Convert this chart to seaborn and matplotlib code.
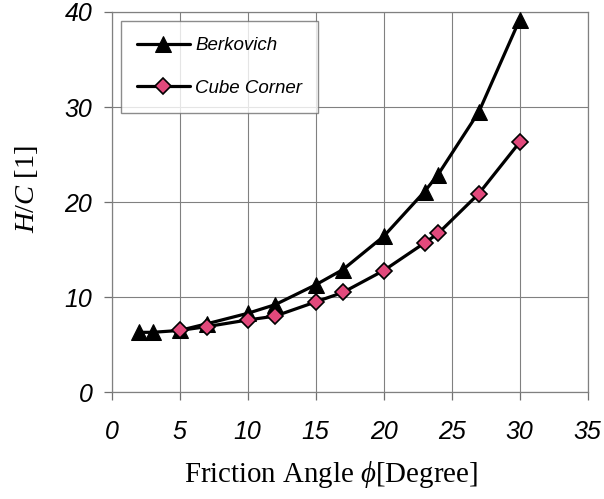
import matplotlib
matplotlib.use("Agg")
import matplotlib.pyplot as plt
import seaborn as sns
import pandas as pd

# Friction angle (degrees) and hardness/cohesion ratio for two indenter tips
berk_angle = [2, 3, 5, 7, 10, 12, 15, 17, 20, 23, 24, 27, 30]
berk_hc = [6.3, 6.3, 6.5, 7.2, 8.3, 9.2, 11.3, 12.9, 16.4, 21.1, 22.9, 29.5, 39.2]
cube_angle = [5, 7, 10, 12, 15, 17, 20, 23, 24, 27, 30]
cube_hc = [6.5, 6.9, 7.6, 8.0, 9.5, 10.5, 12.8, 15.7, 16.7, 20.9, 26.3]
x_ticks = [0, 5, 10, 15, 20, 25, 30, 35]
y_ticks = [0, 10, 20, 30, 40]

sns.set_theme(style="white")
plt.rcParams["font.family"] = ["Liberation Sans", "DejaVu Sans"]
plt.rcParams["mathtext.fontset"] = "custom"
plt.rcParams["mathtext.rm"] = "Liberation Serif"
plt.rcParams["mathtext.it"] = "Liberation Serif:italic"
plt.rcParams["text.color"] = "black"
plt.rcParams["axes.labelcolor"] = "black"
plt.rcParams["xtick.color"] = "black"
plt.rcParams["ytick.color"] = "black"

berk = pd.DataFrame({"angle": berk_angle, "hc": berk_hc})
cube = pd.DataFrame({"angle": cube_angle, "hc": cube_hc})

fig = plt.figure(figsize=(6.04, 4.99), dpi=100)
ax = fig.add_axes([0.185, 0.214, 0.788, 0.762])

sns.lineplot(data=berk, x="angle", y="hc", ax=ax, color="black", lw=2.3,
             marker="^", markersize=12, markerfacecolor="black",
             markeredgecolor="black", label="Berkovich", zorder=3)
sns.lineplot(data=cube, x="angle", y="hc", ax=ax, color="black", lw=2.3,
             marker="D", markersize=8.5, markerfacecolor="#E2497C",
             markeredgecolor="black", markeredgewidth=1.2,
             label="Cube Corner", zorder=4)

ax.set_xlim(0, 35)
ax.set_ylim(0, 40)
ax.set_xticks(x_ticks)
ax.set_yticks(y_ticks)
ax.grid(True, color="#808080", lw=0.8)
for s in ax.spines.values():
    s.set_color("#808080")
    s.set_linewidth(0.9)
ax.tick_params(axis="both", which="major", direction="out", length=6,
               width=0.9, color="#707070", labelsize=18,
               bottom=True, left=True, labelcolor="black")
ax.tick_params(axis="x", pad=14)
ax.tick_params(axis="y", pad=8)
for t in ax.get_xticklabels() + ax.get_yticklabels():
    t.set_fontstyle("italic")

ax.set_xlabel(r"Friction Angle $\phi$[Degree]", fontsize=20.8,
              family="Liberation Serif")
ax.set_ylabel(r"$H/C$ [1]", fontsize=20.5, family="Liberation Serif")
ax.xaxis.set_label_coords(0.46, -0.175)
ax.yaxis.set_label_coords(-0.15, 0.535)

leg = ax.legend(loc="upper left", bbox_to_anchor=(0.008, 0.99),
                frameon=True, fancybox=False, edgecolor="#707070",
                handlelength=2.8, borderpad=0.85, labelspacing=1.35,
                handletextpad=0.3, borderaxespad=0.3,
                prop={"family": "Liberation Sans", "style": "italic", "size": 13.5})
leg.get_frame().set_linewidth(1.0)
for t in leg.get_texts():
    t.set_color("black")

fig.savefig("out.png", dpi=100)
